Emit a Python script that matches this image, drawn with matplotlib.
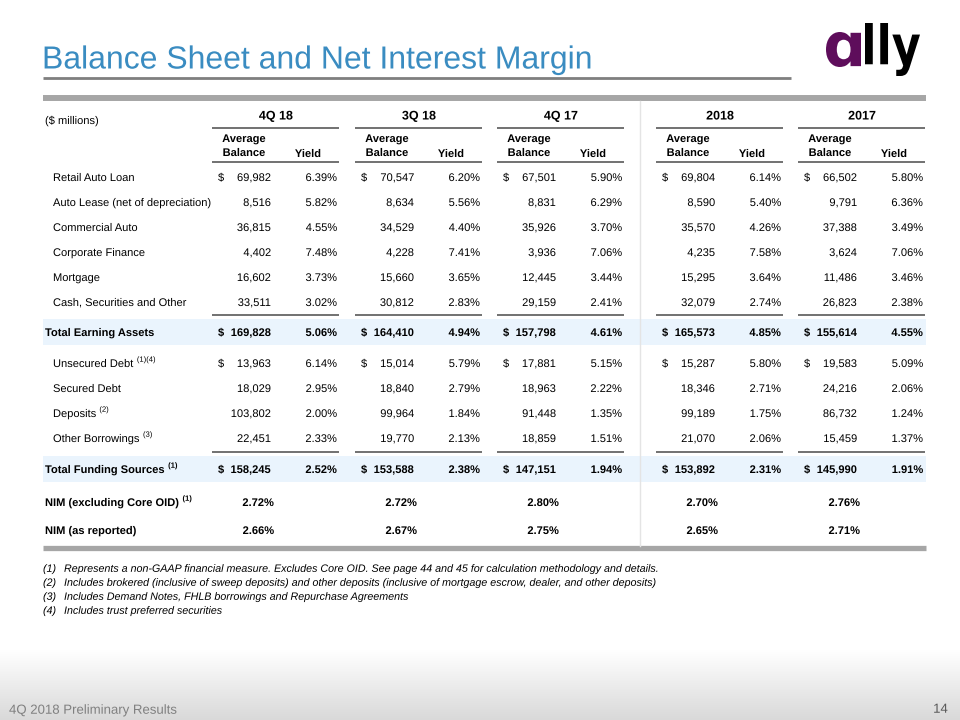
import matplotlib
matplotlib.use("Agg")
import matplotlib.pyplot as plt
import matplotlib.patheffects as pe
import numpy as np
from matplotlib.colors import LinearSegmentedColormap
from matplotlib.patches import Rectangle, PathPatch
from matplotlib.textpath import TextPath
from matplotlib.font_manager import FontProperties
from matplotlib.transforms import Affine2D

plt.rcParams['font.family'] = ['Liberation Sans', 'DejaVu Sans']

# ---- data ----
periods = ["4Q 18", "3Q 18", "4Q 17", "2018", "2017"]

asset_rows = ["Retail Auto Loan", "Auto Lease (net of depreciation)", "Commercial Auto",
              "Corporate Finance", "Mortgage", "Cash, Securities and Other"]
asset_bal = [
    [69982, 70547, 67501, 69804, 66502],
    [8516, 8634, 8831, 8590, 9791],
    [36815, 34529, 35926, 35570, 37388],
    [4402, 4228, 3936, 4235, 3624],
    [16602, 15660, 12445, 15295, 11486],
    [33511, 30812, 29159, 32079, 26823],
]
asset_yield = [
    [6.39, 6.20, 5.90, 6.14, 5.80],
    [5.82, 5.56, 6.29, 5.40, 6.36],
    [4.55, 4.40, 3.70, 4.26, 3.49],
    [7.48, 7.41, 7.06, 7.58, 7.06],
    [3.73, 3.65, 3.44, 3.64, 3.46],
    [3.02, 2.83, 2.41, 2.74, 2.38],
]
total_assets_bal = [169828, 164410, 157798, 165573, 155614]
total_assets_yield = [5.06, 4.94, 4.61, 4.85, 4.55]

fund_rows = ["Unsecured Debt", "Secured Debt", "Deposits", "Other Borrowings"]
fund_notes = ["(1)(4)", "", "(2)", "(3)"]
fund_bal = [
    [13963, 15014, 17881, 15287, 19583],
    [18029, 18840, 18963, 18346, 24216],
    [103802, 99964, 91448, 99189, 86732],
    [22451, 19770, 18859, 21070, 15459],
]
fund_yield = [
    [6.14, 5.79, 5.15, 5.80, 5.09],
    [2.95, 2.79, 2.22, 2.71, 2.06],
    [2.00, 1.84, 1.35, 1.75, 1.24],
    [2.33, 2.13, 1.51, 2.06, 1.37],
]
total_fund_bal = [158245, 153588, 147151, 153892, 145990]
total_fund_yield = [2.52, 2.38, 1.94, 2.31, 1.91]

nim_excl = [2.72, 2.72, 2.80, 2.70, 2.76]
nim_rep = [2.66, 2.67, 2.75, 2.65, 2.71]

footnotes = [
    ("(1)", "Represents a non-GAAP financial measure. Excludes Core OID. See page 44 and 45 for calculation methodology and details."),
    ("(2)", "Includes brokered (inclusive of sweep deposits) and other deposits (inclusive of mortgage escrow, dealer, and other deposits)"),
    ("(3)", "Includes Demand Notes, FHLB borrowings and Repurchase Agreements"),
    ("(4)", "Includes trust preferred securities"),
]

# ---- colours ----
TITLE_BLUE = "#3A8CC1"
BAND = "#EAF4FD"
RULE = "#595959"
BAR = "#A6A6A6"
PLUM = "#5E0D5B"

fig = plt.figure(figsize=(9.6, 7.2), dpi=100)
ax = fig.add_axes([0, 0, 1, 1])
renderer = fig.canvas.get_renderer()

# footer gradient
grad = np.linspace(0, 1, 100).reshape(-1, 1)
cmap = LinearSegmentedColormap.from_list("fade", ["#FFFFFF", "#D9D9D9"])
ax.imshow(grad, extent=[0, 960, 720, 650], cmap=cmap, aspect='auto', zorder=0)
ax.set_xlim(0, 960)
ax.set_ylim(720, 0)
ax.axis('off')

# drawing through a path effect keeps every cell on the same baseline
SMOOTH = [pe.Normal()]


def put(x, y, s, fs=8, bold=False, ha='left', **kw):
    # y is the middle of the capitals
    return ax.text(x, y + 0.36 * fs * 100 / 72, s, fontsize=fs,
                   fontweight='bold' if bold else 'normal', ha=ha, va='baseline',
                   zorder=4, path_effects=SMOOTH, **kw)


# title + rules
put(42, 57, "Balance Sheet and Net Interest Margin", fs=23, color=TITLE_BLUE)
ax.plot([43, 791], [78, 78], color="#7F7F7F", lw=2.0, solid_capstyle='butt')
ax.plot([43, 926], [98, 98], color=BAR, lw=4.3, solid_capstyle='butt')
ax.plot([43, 926], [548, 548], color=BAR, lw=3.8, solid_capstyle='butt')


# ally logo drawn as glyph outlines squeezed into a box
def glyph_box(s, x0, x1, ytop, ybot, color):
    tp = TextPath((0, 0), s, size=100, prop=FontProperties(family='DejaVu Sans', weight='bold'))
    ext = tp.get_extents()
    sx = (x1 - x0) / ext.width
    sy = (ybot - ytop) / ext.height
    tr = Affine2D().translate(-ext.x0, -ext.y1).scale(sx, -sy).translate(x0, ytop)
    ax.add_patch(PathPatch(tr.transform_path(tp), color=color, lw=0, zorder=5))


glyph_box("\u0251", 826, 861, 32, 67, PLUM)
glyph_box("lly", 865, 920, 23, 76, "black")

# shaded total bands
for y0, y1 in [(319, 345), (456, 482)]:
    ax.add_patch(Rectangle((43, y0), 883, y1 - y0, color=BAND, lw=0, zorder=1))

# vertical separator between quarters and full years
ax.plot([640, 640], [101, 546], color="#E4E4E4", lw=1.0, zorder=2)

group_left = [212, 355, 497, 656, 798]
GW = 127

put(45, 120, "($ millions)")

for i, p in enumerate(periods):
    L = group_left[i]
    put(L + 64, 115, p, fs=9, bold=True, ha='center')
    put(L + 32, 138, "Average", bold=True, ha='center')
    put(L + 32, 152, "Balance", bold=True, ha='center')
    put(L + 96, 153, "Yield", bold=True, ha='center')
    for yy in [128, 162, 315, 452]:
        ax.plot([L, L + GW], [yy, yy], color=RULE, lw=1.2, solid_capstyle='butt', zorder=3)


def money_row(y, bal, yld, bold=False, dollar=False):
    for i in range(len(periods)):
        L = group_left[i]
        if dollar:
            put(L + 6, y, "$", bold=bold)
        put(L + 59, y, f"{bal[i]:,}", bold=bold, ha='right')
        put(L + 125, y, f"{yld[i]:.2f}%", bold=bold, ha='right')


def label(x, y, s, note="", bold=False):
    t = put(x, y, s, bold=bold)
    if note:
        bb = t.get_window_extent(renderer)
        xe = ax.transData.inverted().transform((bb.x1, bb.y0))[0]
        put(xe + 3, y - 4, note, fs=5.5, bold=bold)


# earning assets
for r, name in enumerate(asset_rows):
    y = 177 + 25 * r
    label(53, y, name)
    money_row(y, asset_bal[r], asset_yield[r], dollar=(r == 0))
label(45, 332, "Total Earning Assets", bold=True)
money_row(332, total_assets_bal, total_assets_yield, bold=True, dollar=True)

# funding sources
for r, name in enumerate(fund_rows):
    y = 363 + 25 * r
    label(53, y, name, fund_notes[r])
    money_row(y, fund_bal[r], fund_yield[r], dollar=(r == 0))
label(45, 469, "Total Funding Sources", "(1)", bold=True)
money_row(469, total_fund_bal, total_fund_yield, bold=True, dollar=True)

# NIM rows
label(45, 502, "NIM (excluding Core OID)", "(1)", bold=True)
label(45, 530, "NIM (as reported)", bold=True)
for i in range(len(periods)):
    L = group_left[i]
    put(L + 62, 502, f"{nim_excl[i]:.2f}%", bold=True, ha='right')
    put(L + 62, 530, f"{nim_rep[i]:.2f}%", bold=True, ha='right')

# footnotes
for k, (num, txt) in enumerate(footnotes):
    y = 568 + 14 * k
    put(43, y, num, fs=7.7, style='italic')
    put(64, y, txt, fs=7.7, style='italic')

# footer
put(9, 709, "4Q 2018 Preliminary Results", fs=9.5, color="#808080")
put(948, 708, "14", fs=9.5, color="#595959", ha='right')

fig.savefig("out.png", dpi=100)
